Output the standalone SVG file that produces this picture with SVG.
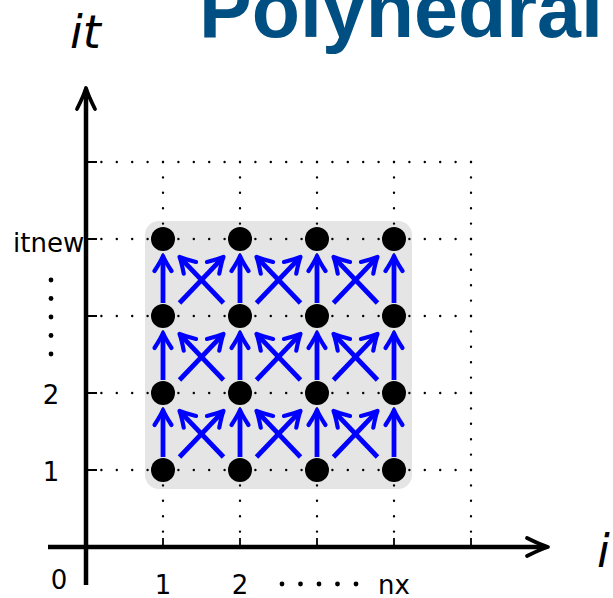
<svg xmlns="http://www.w3.org/2000/svg" width="613" height="598" viewBox="0 0 613 598">
<style>
.lab{font-family:"DejaVu Sans","Liberation Sans",sans-serif;font-size:26px;fill:#000}
.var{font-family:"DejaVu Sans","Liberation Sans",sans-serif;font-style:italic;font-size:46px;fill:#000}
.title{font-family:"Liberation Sans",Arial,sans-serif;font-weight:bold;font-size:79px;fill:#004f82}
.grid{stroke:#000;stroke-width:2.4;stroke-linecap:round;stroke-dasharray:0 15.4;fill:none}
.tick{stroke:#000;stroke-width:1.8}
.axis{stroke:#000;stroke-width:4.5;fill:none}
.node{fill:#000}
.dep{stroke:#0000ff;stroke-width:4.8;fill:none;marker-end:url(#ah)}
</style>
<defs>
<marker id="ah" markerUnits="userSpaceOnUse" viewBox="-20 -12 26 24" markerWidth="26" markerHeight="24" refX="-2" refY="0" orient="auto" overflow="visible">
<path d="M-15,-8.5 Q-5,-2 0,0 Q-5,2 -15,8.5" fill="none" stroke="#0000ff" stroke-width="4.2" stroke-linecap="round" stroke-linejoin="round"/>
</marker>
<marker id="axh" markerUnits="userSpaceOnUse" viewBox="-26 -12 30 24" markerWidth="30" markerHeight="24" refX="-2" refY="0" orient="auto" overflow="visible">
<path d="M-21,-9 Q-7,-2 0,0 Q-7,2 -21,9" fill="none" stroke="#000" stroke-width="3.8" stroke-linecap="round" stroke-linejoin="round"/>
</marker>
</defs>

<text class="title" x="199" y="37">Polyhedral</text>

<rect id="domain" x="145" y="221" width="267" height="268" rx="14" fill="#e5e5e5"/>

<g id="grid">
<path class="grid" d="M86,470 H471 M86,393 H471 M86,316 H471 M86,239 H471 M86,162 H471"/>
<path class="grid" d="M163,547 V162 M240,547 V162 M317,547 V162 M394,547 V162 M471,547 V162"/>
<path class="tick" d="M86,470 H97 M86,393 H97 M86,316 H97 M86,239 H97 M86,162 H97"/>
<path class="tick" d="M163,547 V538 M240,547 V538 M317,547 V538 M394,547 V538 M471,547 V538"/>
</g>

<g id="axes">
<path class="axis" d="M48,547 H546" marker-end="url(#axh)"/>
<path class="axis" d="M86,585 V90" marker-end="url(#axh)"/>
</g>

<g id="labels">
<text class="var" x="70" y="48">it</text>
<text class="var" x="597" y="567">i</text>
<text class="lab" x="59" y="589" text-anchor="middle">0</text>
<text class="lab" x="163" y="594" text-anchor="middle">1</text>
<text class="lab" x="240" y="594" text-anchor="middle">2</text>
<text class="lab" x="394" y="594" text-anchor="middle">nx</text>
<text class="lab" x="51" y="481" text-anchor="middle">1</text>
<text class="lab" x="51" y="404" text-anchor="middle">2</text>
<text class="lab" x="13" y="252">itnew</text>
<g fill="#000">
<circle cx="51" cy="280" r="2.4"/><circle cx="51" cy="298.5" r="2.4"/><circle cx="51" cy="317" r="2.4"/><circle cx="51" cy="335.5" r="2.4"/><circle cx="51" cy="354" r="2.4"/>
<circle cx="282" cy="584" r="2.4"/><circle cx="300.5" cy="584" r="2.4"/><circle cx="319" cy="584" r="2.4"/><circle cx="337.5" cy="584" r="2.4"/><circle cx="356" cy="584" r="2.4"/>
</g>
</g>

<g id="connectors">
<path class="dep" d="M163,457 V412"/><path class="dep" d="M240,457 V412"/><path class="dep" d="M317,457 V412"/><path class="dep" d="M394,457 V412"/>
<path class="dep" d="M179.5,457 L222.1,412.4"/><path class="dep" d="M223.5,457 L180.9,412.4"/>
<path class="dep" d="M256.5,457 L299.1,412.4"/><path class="dep" d="M300.5,457 L257.9,412.4"/>
<path class="dep" d="M333.5,457 L376.1,412.4"/><path class="dep" d="M377.5,457 L334.9,412.4"/>

<path class="dep" d="M163,380 V335"/><path class="dep" d="M240,380 V335"/><path class="dep" d="M317,380 V335"/><path class="dep" d="M394,380 V335"/>
<path class="dep" d="M179.5,380 L222.1,335.4"/><path class="dep" d="M223.5,380 L180.9,335.4"/>
<path class="dep" d="M256.5,380 L299.1,335.4"/><path class="dep" d="M300.5,380 L257.9,335.4"/>
<path class="dep" d="M333.5,380 L376.1,335.4"/><path class="dep" d="M377.5,380 L334.9,335.4"/>

<path class="dep" d="M163,303 V258"/><path class="dep" d="M240,303 V258"/><path class="dep" d="M317,303 V258"/><path class="dep" d="M394,303 V258"/>
<path class="dep" d="M179.5,303 L222.1,258.4"/><path class="dep" d="M223.5,303 L180.9,258.4"/>
<path class="dep" d="M256.5,303 L299.1,258.4"/><path class="dep" d="M300.5,303 L257.9,258.4"/>
<path class="dep" d="M333.5,303 L376.1,258.4"/><path class="dep" d="M377.5,303 L334.9,258.4"/>
</g>

<g id="nodes">
<g id="n1_1"><circle class="node" cx="163" cy="470" r="12"/></g>
<g id="n2_1"><circle class="node" cx="240" cy="470" r="12"/></g>
<g id="n3_1"><circle class="node" cx="317" cy="470" r="12"/></g>
<g id="n4_1"><circle class="node" cx="394" cy="470" r="12"/></g>
<g id="n1_2"><circle class="node" cx="163" cy="393" r="12"/></g>
<g id="n2_2"><circle class="node" cx="240" cy="393" r="12"/></g>
<g id="n3_2"><circle class="node" cx="317" cy="393" r="12"/></g>
<g id="n4_2"><circle class="node" cx="394" cy="393" r="12"/></g>
<g id="n1_3"><circle class="node" cx="163" cy="316" r="12"/></g>
<g id="n2_3"><circle class="node" cx="240" cy="316" r="12"/></g>
<g id="n3_3"><circle class="node" cx="317" cy="316" r="12"/></g>
<g id="n4_3"><circle class="node" cx="394" cy="316" r="12"/></g>
<g id="n1_4"><circle class="node" cx="163" cy="239" r="12"/></g>
<g id="n2_4"><circle class="node" cx="240" cy="239" r="12"/></g>
<g id="n3_4"><circle class="node" cx="317" cy="239" r="12"/></g>
<g id="n4_4"><circle class="node" cx="394" cy="239" r="12"/></g>
</g>
</svg>
